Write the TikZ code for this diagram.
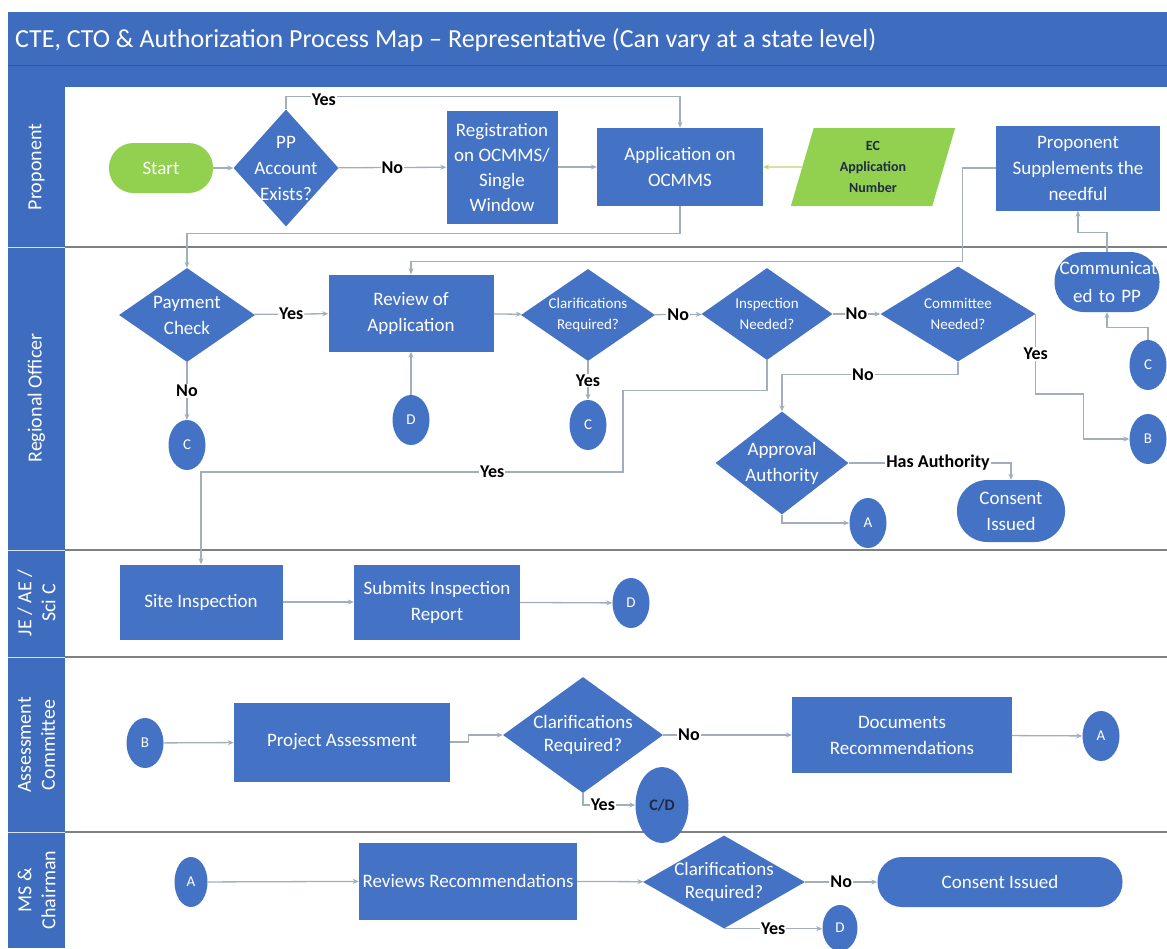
\documentclass[tikz,border=0pt]{standalone}
\usepackage{fontspec}
\setmainfont{Carlito}
\usetikzlibrary{shapes.geometric,arrows.meta}
\definecolor{band}{HTML}{3E6CBE}
\definecolor{boxblue}{HTML}{4472C4}
\definecolor{leaf}{HTML}{92D050}
\definecolor{wire}{HTML}{A3AEBD}
\definecolor{laneline}{HTML}{808080}
\definecolor{ecwire}{HTML}{C8CE6E}
\definecolor{navy}{HTML}{1F2A44}
\begin{document}
\begin{tikzpicture}[x=1pt,y=-1pt,
  txt/.style={text=white, align=center, font=\fontsize{19}{26}\selectfont},
  box/.style 2 args={txt, rectangle, fill=boxblue, inner sep=2pt, minimum width=#1, minimum height=#2},
  pill/.style 2 args={box={#1}{#2}, rounded corners=#2*0.5-0.5},
  dia/.style 2 args={diamond, fill=boxblue, inner sep=0pt, minimum width=#1, minimum height=#2},
  dtxt/.style={txt, inner sep=0pt},
  small/.style={font=\fontsize{15}{21}\selectfont},
  circ/.style={ellipse, fill=boxblue, text=white, inner sep=0pt, minimum width=37, minimum height=50, font=\fontsize{15}{15}\selectfont},
  lanetxt/.style={text=white, align=center, rotate=90, font=\fontsize{20}{24}\selectfont},
  arr/.style={draw=wire, line width=1.3pt, -{Stealth[length=6pt,width=5pt]}},
  lbl/.style={fill=white, inner sep=1pt, text=black, font=\bfseries\fontsize{18}{18}\selectfont},
]
\useasboundingbox (0,0) rectangle (1167,948);
\fill[white] (0,0) rectangle (1167,948);

% title band and lane header column
\fill[band] (8,12) rectangle (1167,87);
\fill[band] (8,87) rectangle (65,948);
\draw[line width=0.8pt, draw=band!80!black] (8,65) -- (1167,65);
\node[anchor=west, text=white, font=\fontsize{26}{30}\selectfont, inner sep=0pt] (title) at (15,40)
  {CTE, CTO \& Authorization Process Map – Representative (Can vary at a state level)};

% lane separators
\foreach \yy in {247,550,657,832} {
  \draw[laneline, line width=1.6pt] (65,\yy) -- (1167,\yy);
  \draw[white!80!band, line width=1pt] (8,\yy) -- (65,\yy);
}
\node[lanetxt] (lane1) at (36.5,167) {Proponent};
\node[lanetxt] (lane2) at (36.5,398) {Regional Officer};
\node[lanetxt] (lane3) at (36.5,603) {JE / AE /\\Sci C};
\node[lanetxt] (lane4) at (36.5,745) {Assessment\\Committee};
\node[lanetxt] (lane5) at (36.5,890) {MS \&\\Chairman};

% ---- Proponent
\node[pill={104}{50}, fill=leaf] (start) at (161,168) {Start};
\node[dia={105}{117}] (pp) at (286,168) {};
\node[dtxt] (ppt) at (pp) {PP\\Account\\Exists?};
\node[box={111}{113}, font=\fontsize{19}{25}\selectfont] (reg) at (502,167) {Registration\\on OCMMS/\\Single\\Window};
\node[box={166}{78}] (app) at (680,167) {Application on\\OCMMS};
\node[trapezium, trapezium left angle=76, trapezium right angle=104, trapezium stretches=true,
      fill=leaf, minimum width=166, minimum height=78, inner sep=0pt,
      text=navy, align=center, font=\bfseries\fontsize{14}{21}\selectfont] (ec) at (873,167) {EC\\Application\\Number};
\node[box={164}{85}] (sup) at (1078,168) {Proponent\\Supplements the\\needful};

% ---- Regional Officer
\node[dia={136}{94}] (pay) at (187,315) {};
\node[dtxt] (payt) at (pay) {Payment\\Check};
\node[box={165}{77}] (review) at (411,313) {Review of\\Application};
\node[dia={134}{92}] (clar1) at (588,315) {};
\node[dtxt, small] (clar1t) at (clar1) {Clarifications\\Required?};
\node[dia={131}{92}] (insp) at (767,314) {};
\node[dtxt, small] (inspt) at (insp) {Inspection\\Needed?};
\node[dia={155}{95}] (comm) at (958,314) {};
\node[dtxt, small] (commt) at (comm) {Committee\\Needed?};
\node[pill={105}{60}, text width=95, inner sep=5pt, font=\fontsize{19}{28}\selectfont] (commpp) at (1107,282) {Communicat\\ed to PP};
\node[circ] (c1) at (187,445) {C};
\node[circ] (d1) at (411,420) {D};
\node[circ] (c2) at (588,425) {C};
\node[circ] (c3) at (1148,365) {C};
\node[circ] (b1) at (1148,439) {B};
\node[dia={133}{103}] (appr) at (782,463) {};
\node[dtxt] (apprt) at (appr) {Approval\\Authority};
\node[circ] (a1) at (868,523) {A};
\node[pill={108}{62}] (cons1) at (1011,511) {Consent\\Issued};

% ---- JE / AE / Sci C
\node[box={163}{75}] (site) at (201,602) {Site Inspection};
\node[box={166}{75}] (sub) at (437,602) {Submits Inspection\\Report};
\node[circ] (d2) at (631,603) {D};

% ---- Assessment Committee
\node[circ] (b2) at (145,743) {B};
\node[box={216}{79}] (pa) at (342,742) {Project Assessment};
\node[dia={160}{116}] (clar2) at (583,735) {};
\node[dtxt, font=\fontsize{19}{23}\selectfont] (clar2t) at (clar2) {Clarifications\\Required?};
\node[box={220}{76}] (docs) at (902,735) {Documents\\Recommendations};
\node[circ] (a2) at (1101,736) {A};
\node[circ, minimum width=53, minimum height=76, text=navy, font=\bfseries\fontsize{16}{16}\selectfont] (cd) at (662,805) {C/D};

% ---- MS & Chairman
\node[circ, minimum width=33] (a3) at (191,882) {A};
\node[box={218}{77}] (rev) at (468,881) {Reviews Recommendations};
\node[dia={162}{93}] (clar3) at (724,882) {};
\node[dtxt, font=\fontsize{19}{23}\selectfont] (clar3t) at (clar3) {Clarifications\\Required?};
\node[pill={245}{50}] (cons2) at (1000,882) {Consent Issued};
\node[circ, minimum width=35, minimum height=46] (d3) at (840,928) {D};

% ---- connectors: Proponent
\draw[arr] (start) -- (pp);
\draw[arr] (pp) -- node[lbl]{No} (reg);
\draw[arr] (reg) -- (app);
\draw[arr] (pp.north) -- ++(0,-13) -| node[lbl, pos=0.048, yshift=-3pt]{Yes} (app.north);
\draw[arr, draw=ecwire] (ec) -- (app);
\draw[arr] (app.south) -- ++(0,27) -| (pay.north);
\draw[arr] (sup.west) -- ++(-33,0) |- ([yshift=13pt]review.north) -- (review.north);
\draw[arr] (commpp.north) |- ([yshift=-22pt]sup.south) -- (sup.south);

% ---- connectors: Regional Officer
\draw[arr] (pay) -- node[lbl]{Yes} (review);
\draw[arr] (pay) -- node[lbl]{No} (c1);
\draw[arr] (d1) -- (review);
\draw[arr] (review) -- (clar1);
\draw[arr] (clar1) -- node[lbl]{Yes} (c2);
\draw[arr] (clar1) -- node[lbl]{No} (insp);
\draw[arr] (insp) -- node[lbl]{No} (comm);
\draw[arr] (insp.south) -- ++(0,30) -| (623,472) -- node[lbl, pos=0.31]{Yes} (site.north |- 0,472) -- (site.north);
\draw[arr] (comm.south) -- ++(0,13) -| node[lbl, pos=0.27]{No} (appr.north);
\draw[arr] (comm.east) -- node[lbl]{Yes} ++(0,80) -- ++(48,0) |- (b1.west);
\draw[arr] (c3.north) -- ++(0,-12) -| (commpp.south);
\draw[arr] (appr.east) -| node[lbl, pos=0.275]{Has Authority} (cons1.north);
\draw[arr] (appr.south) |- (a1.west);

% ---- connectors: JE / AE / Sci C
\draw[arr] (site) -- (sub);
\draw[arr] (sub) -- (d2);

% ---- connectors: Assessment Committee
\draw[arr] (b2) -- (pa);
\draw[arr] (pa.east) -- ++(18,0) |- (clar2.west);
\draw[arr] (clar2) -- node[lbl, pos=0.2]{No} (docs);
\draw[arr] (docs) -- (a2);
\draw[arr] (clar2.south) |- node[lbl, pos=0.69]{Yes} (cd.west);

% ---- connectors: MS & Chairman
\draw[arr] (a3) -- (rev);
\draw[arr] (rev) -- (clar3);
\draw[arr] (clar3) -- node[lbl]{No} (cons2);
\draw[arr] (clar3.south) -- node[lbl]{Yes} (clar3.south -| d3.west);
\end{tikzpicture}
\end{document}
